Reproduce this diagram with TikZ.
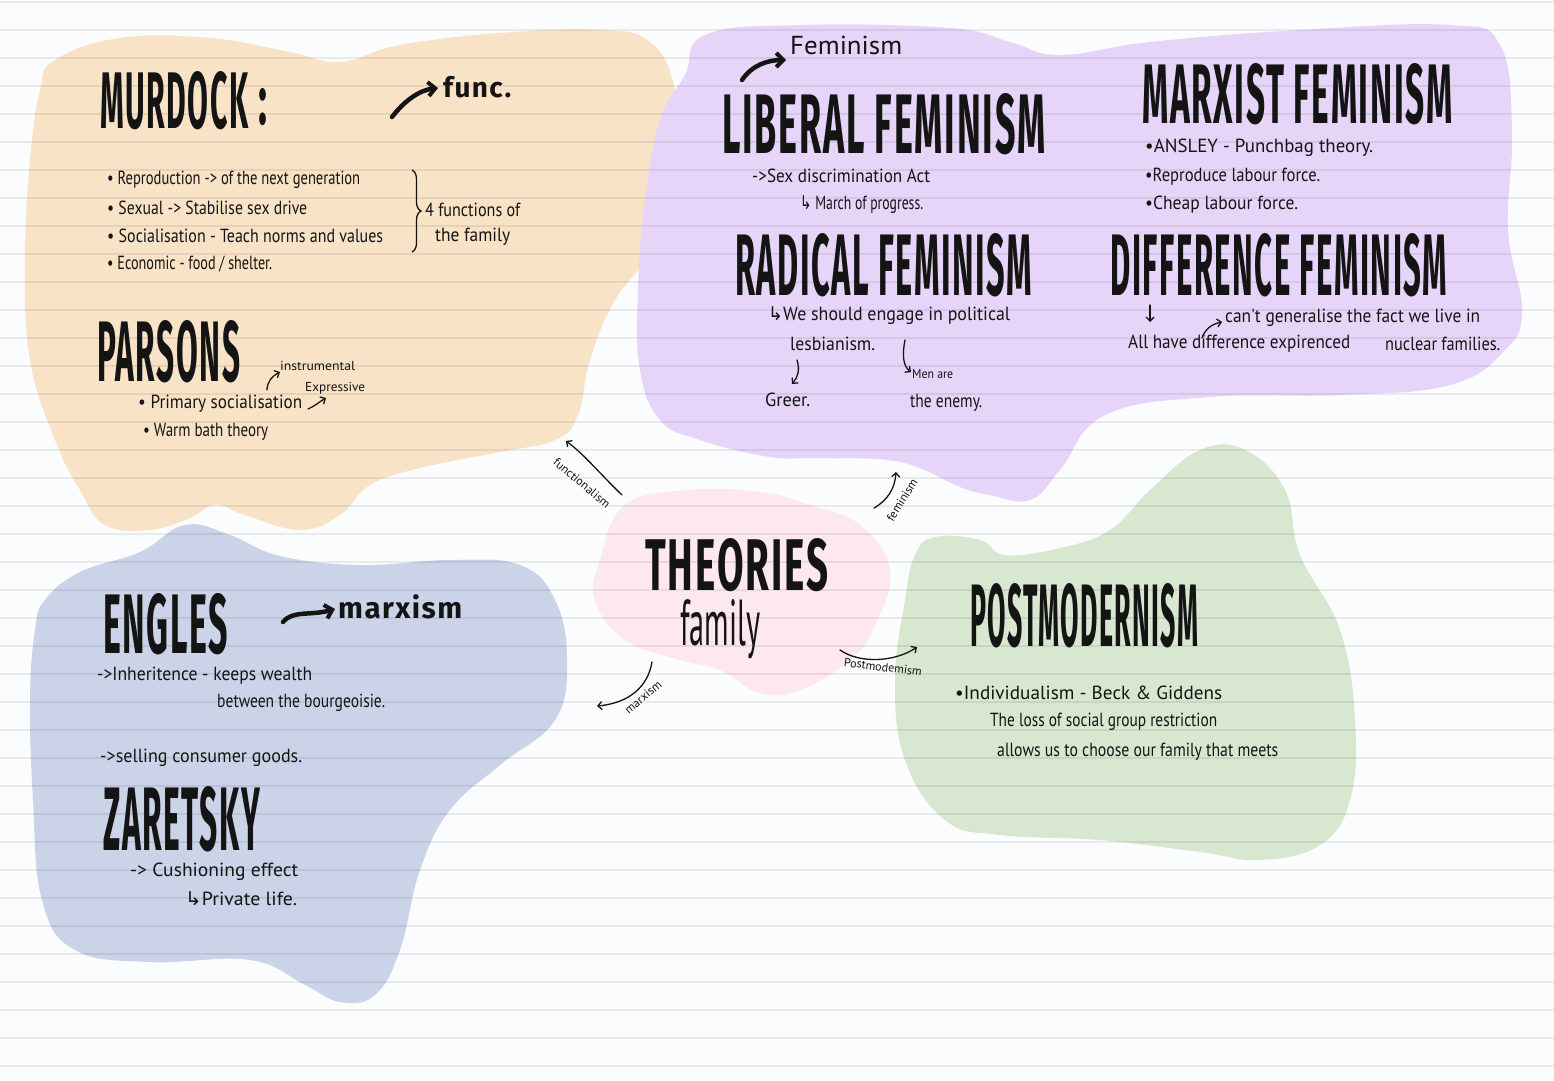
\documentclass[tikz,border=0pt]{standalone}
\usepackage{fontspec}
\usepackage{graphicx}
\usetikzlibrary{arrows.meta,decorations.pathreplacing}
\setmainfont{PT Sans}
\newfontfamily\titlefont{Fira Sans}[LetterSpace=5]
\newfontfamily\handfont{PT Sans}
\newfontfamily\symf{DejaVu Sans}
\definecolor{paper}{HTML}{FBFCFE}
\definecolor{rule}{HTML}{E4E6EC}
\definecolor{ink}{HTML}{141414}
\definecolor{orangeblob}{HTML}{F8E3C6}
\definecolor{purpleblob}{HTML}{E6D5F8}
\definecolor{blueblob}{HTML}{CAD3E7}
\definecolor{greenblob}{HTML}{D8E7D0}
\definecolor{pinkblob}{HTML}{FCE8EE}
\newcommand{\ttl}[3]{\resizebox{#1pt}{#2pt}{\titlefont\bfseries #3}}
\newcommand{\hw}[2]{\resizebox{#1pt}{\height}{#2}}
\newcommand{\hk}{{\symf ↳}}
\tikzset{
  ttlnode/.style={anchor=south west, inner sep=0pt, text=ink},
  hwnode/.style={anchor=west, inner sep=0pt, text=ink, font=\handfont\fontsize{19}{19}\selectfont},
  hwsmall/.style={hwnode, font=\handfont\fontsize{13}{13}\selectfont},
  conlabel/.style={inner sep=0pt, text=ink, font=\handfont\fontsize{12}{12}\selectfont},
  thinarr/.style={draw=ink, line width=1.3pt, line cap=round, -{Straight Barb[length=4pt,width=8pt]}},
  thickarr/.style={draw=ink, line width=4.5pt, line cap=round, -{Straight Barb[length=7pt,width=14pt,line width=4pt]}},
  ruling/.style={draw=black, opacity=0.07, line width=1.4pt},
}
\begin{document}
\begin{tikzpicture}[x=1pt,y=-1pt]
\useasboundingbox (0,0) rectangle (1554,1080);
\fill[paper] (0,0) rectangle (1554,1080);

% blobs
\fill[orangeblob] plot[smooth cycle, tension=0.7] coordinates {
 (55,60) (120,38) (210,38) (290,52) (340,62) (400,45) (500,33) (600,30) (650,42) (675,90) (680,170) (660,240) (615,300) (590,360) (578,415) (555,440) (500,452) (420,468) (370,485) (340,515) (300,530) (245,515) (215,505) (190,518) (150,530) (105,525) (80,490) (55,440) (30,360) (25,260) (30,160) (40,90)};
\fill[purpleblob] plot[smooth cycle, tension=0.7] coordinates {
 (685,75) (705,35) (800,25) (950,28) (1010,42) (1060,55) (1150,42) (1300,30) (1450,25) (1500,45) (1512,130) (1508,230) (1522,310) (1505,350) (1450,385) (1340,395) (1210,397) (1105,415) (1060,470) (1030,500) (990,495) (960,487) (900,462) (820,458) (770,457) (700,440) (660,420) (640,370) (638,290) (645,200) (660,120)};
\fill[blueblob] plot[smooth cycle, tension=0.7] coordinates {
 (45,600) (80,572) (140,552) (185,525) (230,535) (280,556) (360,565) (450,560) (520,565) (555,600) (567,660) (555,720) (500,765) (450,810) (420,870) (400,950) (375,995) (340,1002) (305,985) (250,960) (150,962) (75,950) (42,900) (33,800) (30,700) (35,630)};
\fill[greenblob] plot[smooth cycle, tension=0.7] coordinates {
 (935,537) (980,540) (1005,555) (1060,548) (1110,530) (1150,490) (1200,450) (1245,450) (1285,490) (1300,555) (1340,630) (1355,720) (1350,800) (1320,845) (1260,860) (1200,852) (1100,840) (1000,835) (945,820) (905,760) (895,680) (905,600) (915,555)};
\fill[pinkblob] plot[smooth cycle, tension=0.7] coordinates {
 (600,560) (625,505) (690,490) (760,492) (810,505) (860,525) (890,570) (875,625) (850,660) (800,690) (760,693) (720,670) (680,660) (625,640) (595,600)};

% ruled lines
\foreach \k in {0,...,38} { \draw[ruling] (0,{2+28*\k}) -- (1554,{2+28*\k}); }

% ---------- MURDOCK / PARSONS ----------
\node[ttlnode] (murdock) at (100,130) {\ttl{148}{57}{MURDOCK}};
\node[ttlnode] (colon) at (258,126) {\ttl{9}{36}{:}};
\coordinate (fu1) at (392,117);
\coordinate (fu2) at (438,88);
\draw[thickarr] (fu1) .. controls (405,100) and (420,90) .. (fu2);
\node[hwnode, anchor=west] (func) at (443,87) {\resizebox{68pt}{!}{\titlefont\bfseries func.}};

\node[hwnode] (m1) at (107,180) {\hw{253}{• Reproduction -> of the next generation}};
\node[hwnode] (m2) at (107,208) {\hw{200}{• Sexual -> Stabilise sex drive}};
\node[hwnode] (m3) at (107,236) {\hw{276}{• Socialisation - Teach norms and values}};
\node[hwnode] (m4) at (107,264) {\hw{165}{• Economic - food / shelter.}};
\coordinate (br1) at (412,170);
\coordinate (br2) at (412,252);
\draw[ink, line width=1.3pt, decorate, decoration={brace, amplitude=9pt}] (br1) -- (br2);
\node[hwnode] (f1) at (425,210) {\hw{95}{4 functions of}};
\node[hwnode] (f2) at (435,237) {\hw{75}{the family}};

\node[ttlnode] (parsons) at (97,383) {\ttl{143}{61}{PARSONS}};
\node[hwsmall] (instr) at (280,366) {\hw{75}{instrumental}};
\node[hwsmall] (expr) at (305,388) {\hw{60}{Expressive}};
\node[hwnode] (p1) at (138,404) {\hw{164}{• Primary socialisation}};
\node[hwnode] (p2) at (143,432) {\hw{125}{• Warm bath theory}};
\coordinate (ia1) at (267,390);
\coordinate (ia2) at (280,372);
\draw[thinarr] (ia1) .. controls (267,382) and (272,376) .. (ia2);
\coordinate (ea1) at (308,409);
\coordinate (ea2) at (326,398);
\draw[thinarr] (ea1) .. controls (315,406) and (319,402) .. (ea2);

% ---------- FEMINISM ----------
\coordinate (fe1) at (742,80);
\coordinate (fe2) at (786,60);
\draw[thickarr] (fe1) .. controls (752,65) and (768,60) .. (fe2);
\node[hwnode, font=\handfont\fontsize{26}{26}\selectfont] (feminism) at (790,45) {\hw{112}{Feminism}};

\node[ttlnode] (liberal) at (722,155) {\ttl{323}{60}{LIBERAL FEMINISM}};
\node[hwnode] (l1) at (752,176) {\hw{178}{->Sex discrimination Act}};
\node[hwnode] (l2) at (800,205) {\hw{123}{\hk\ March of progress.}};

\node[ttlnode] (marxist) at (1142,125) {\ttl{310}{60}{MARXIST FEMINISM}};
\node[hwnode] (x1) at (1145,148) {\hw{228}{•ANSLEY - Punchbag theory.}};
\node[hwnode] (x2) at (1145,177) {\hw{175}{•Reproduce labour force.}};
\node[hwnode] (x3) at (1145,205) {\hw{153}{•Cheap labour force.}};

\node[ttlnode] (radical) at (735,297) {\ttl{297}{62}{RADICAL FEMINISM}};
\node[hwnode] (r1) at (768,316) {\hw{242}{\hk We should engage in political}};
\node[hwnode] (r2) at (790,344) {\hw{85}{lesbianism.}};
\node[hwnode] (greer) at (765,400) {\hw{45}{Greer.}};
\node[hwsmall] (men) at (912,374) {\hw{41}{Men are}};
\node[hwnode] (enemy) at (910,403) {\hw{72}{the enemy.}};
\coordinate (ga1) at (797,360);
\coordinate (ga2) at (792,384);
\draw[thinarr] (ga1) .. controls (800,370) and (798,377) .. (ga2);
\coordinate (ma1) at (905,340);
\coordinate (ma2) at (911,372);
\draw[thinarr] (ma1) .. controls (902,355) and (903,366) .. (ma2);

\node[ttlnode] (difference) at (1110,297) {\ttl{337}{62}{DIFFERENCE FEMINISM}};
\coordinate (da1) at (1150,305);
\coordinate (da2) at (1150,322);
\draw[thinarr] (da1) -- (da2);
\coordinate (ca1) at (1202,338);
\coordinate (ca2) at (1222,322);
\draw[thinarr] (ca1) .. controls (1205,329) and (1212,324) .. (ca2);
\node[hwnode] (d1) at (1225,318) {\hw{255}{can't generalise the fact we live in}};
\node[hwnode] (d2) at (1128,344) {\hw{222}{All have difference expirenced}};
\node[hwnode] (d3) at (1385,344) {\hw{115}{nuclear families.}};

% ---------- ENGLES / ZARETSKY ----------
\node[ttlnode] (engles) at (103,655) {\ttl{125}{60}{ENGLES}};
\coordinate (mx1) at (283,622);
\coordinate (mx2) at (335,609);
\draw[thickarr] (mx1) .. controls (293,610) and (310,616) .. (mx2);
\node[hwnode] (marxism) at (338,607) {\resizebox{124pt}{!}{\titlefont\bfseries marxism}};
\node[hwnode] (e1) at (97,676) {\hw{215}{->Inheritence - keeps wealth}};
\node[hwnode] (e2) at (217,703) {\hw{168}{between the bourgeoisie.}};
\node[hwnode] (e3) at (100,758) {\hw{202}{->selling consumer goods.}};
\node[ttlnode] (zaretsky) at (103,852) {\ttl{157}{64}{ZARETSKY}};
\node[hwnode] (z1) at (130,872) {\hw{168}{-> Cushioning effect}};
\node[hwnode] (z2) at (185,899) {\hw{112}{\hk Private life.}};

% ---------- POSTMODERNISM ----------
\node[ttlnode] (postmod) at (970,648) {\ttl{228}{63}{POSTMODERNISM}};
\node[hwnode] (g1) at (955,693) {\hw{267}{•Individualism - Beck \& Giddens}};
\node[hwnode] (g2) at (990,722) {\hw{227}{The loss of social group restriction}};
\node[hwnode] (g3) at (997,752) {\hw{281}{allows us to choose our family that meets}};

% ---------- CENTRE ----------
\node[ttlnode] (theories) at (645,592) {\ttl{183}{52}{THEORIES}};
\node[anchor=base west, inner sep=0pt, text=ink] (family) at (680,645) {\resizebox{80pt}{46pt}{\handfont family}};

\coordinate (c1) at (622,495);
\coordinate (c2) at (566,441);
\draw[thinarr] (c1) .. controls (600,474) and (585,455) .. (c2);
\node[conlabel, rotate=-40] (lfun) at (582,483) {functionalism};

\coordinate (c3) at (874,508);
\coordinate (c4) at (896,472);
\draw[thinarr] (c3) .. controls (888,500) and (895,488) .. (c4);
\node[conlabel, rotate=58] (lfem) at (902,500) {feminism};

\coordinate (c5) at (652,662);
\coordinate (c6) at (597,706);
\draw[thinarr] (c5) .. controls (648,686) and (630,703) .. (c6);
\node[conlabel, rotate=40] (lmar) at (643,697) {marxism};

\coordinate (c7) at (840,650);
\coordinate (c8) at (917,647);
\draw[thinarr] (c7) .. controls (860,664) and (895,662) .. (c8);
\node[conlabel, rotate=-7] (lpost) at (883,667) {Postmodemism};
\end{tikzpicture}
\end{document}
